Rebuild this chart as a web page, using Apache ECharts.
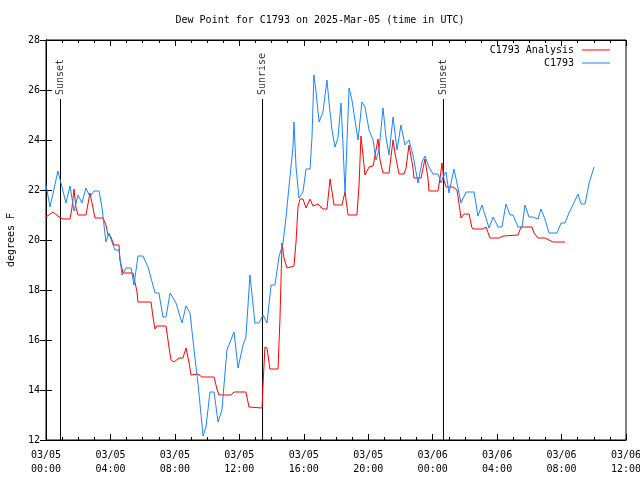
<!DOCTYPE html>
<html>
<head>
<meta charset="utf-8">
<script src="https://cdn.jsdelivr.net/npm/echarts@6/dist/echarts.min.js"></script>
<style>html,body{margin:0;padding:0;background:#fff}#c{width:640px;height:480px}</style>
</head>
<body>
<div id="c"></div>
<script>
// hours since 2025-03-05 00:00 UTC
const stationHours = [0,0.25,0.74,1.24,1.49,1.74,1.99,2.23,2.48,2.73,2.98,3.29,3.48,3.72,3.91,4.16,4.28,4.53,4.72,4.97,5.28,5.46,5.71,6.02,6.33,6.77,7.01,7.26,7.45,7.70,8.07,8.44,8.69,8.94,9.19,9.43,9.75,9.93,10.18,10.43,10.68,10.92,11.23,11.67,11.92,12.23,12.41,12.66,12.97,13.22,13.47,13.72,13.97,14.21,14.46,14.71,14.90,15.08,15.33,15.39,15.52,15.70,15.95,16.14,16.39,16.51,16.63,16.76,16.95,17.19,17.44,17.57,17.75,17.94,18.12,18.31,18.43,18.56,18.81,18.99,19.24,19.37,19.61,19.80,20.05,20.30,20.48,20.67,20.92,21.10,21.29,21.54,21.79,22.03,22.28,22.53,22.78,23.09,23.34,23.52,23.77,24.02,24.33,24.52,24.64,24.83,25.01,25.32,25.51,25.76,26.07,26.57,26.81,27.06,27.50,27.75,28.06,28.30,28.55,28.80,28.99,29.30,29.55,29.73,29.98,30.23,30.54,30.72,30.97,31.22,31.72,31.97,32.21,32.46,32.71,33.02,33.21,33.46,33.71,34.02];
const stationValues = [22.2,21.32,22.76,21.48,22.16,21.16,21.8,21.48,22.08,21.72,21.96,21.96,21.28,19.92,20.28,19.8,19.6,19.6,18.6,18.88,18.88,18.2,19.36,19.36,18.92,17.88,17.88,16.92,16.92,17.88,17.48,16.68,17.36,17.08,15.6,14.28,12.16,12.52,13.92,13.92,12.72,13.2,15.6,16.32,14.88,15.8,16.12,18.6,16.68,16.68,17.0,16.68,18.2,18.2,19.32,19.88,20.92,22.12,23.72,24.72,22.92,21.68,21.92,22.84,22.84,24.12,26.6,25.92,24.72,25.12,26.4,25.48,24.4,23.72,24.08,25.48,23.88,21.88,26.08,25.6,24.52,24.0,25.52,25.32,24.4,24.0,23.2,23.6,25.28,24.12,23.4,24.92,23.6,24.6,23.8,24.0,23.4,22.28,23.12,23.36,22.92,22.64,22.64,22.28,22.52,22.72,21.88,22.84,22.28,21.48,21.92,21.92,20.96,21.4,20.48,20.92,20.52,20.52,21.44,21.0,21.0,20.52,20.52,21.4,20.92,20.92,20.84,21.24,20.84,20.28,20.28,20.68,20.68,21.08,21.4,21.84,21.44,21.44,22.28,22.92];

const analysisHours = [0,0.43,0.81,1.06,1.49,1.61,1.74,1.86,1.99,2.48,2.73,2.92,3.04,3.54,3.72,3.85,4.03,4.22,4.53,4.59,4.78,5.40,5.65,5.71,6.52,6.64,6.77,6.89,7.45,7.63,7.76,7.94,8.26,8.50,8.69,8.88,9.00,9.43,9.68,10.43,10.61,10.74,11.48,11.67,12.41,12.60,12.72,13.41,13.47,13.59,13.72,13.90,14.40,14.52,14.65,14.77,14.96,15.39,15.52,15.64,15.77,15.95,16.14,16.39,16.57,16.88,17.19,17.44,17.63,17.88,18.37,18.56,18.75,19.30,19.43,19.55,19.80,20.05,20.30,20.61,20.73,20.92,21.29,21.54,21.66,21.91,22.22,22.35,22.53,22.78,22.84,23.28,23.52,23.71,23.77,24.33,24.46,24.58,24.70,24.83,25.26,25.51,25.63,25.76,25.95,26.26,26.44,26.57,27.12,27.31,27.56,28.12,28.37,29.30,29.48,30.17,30.29,30.54,30.97,31.22,31.47,32.21];
const analysisValues = [20.92,21.12,20.92,20.84,20.84,21.28,22.04,21.28,21.0,21.0,21.88,21.28,20.88,20.88,20.6,20.2,20.12,19.8,19.8,19.2,18.68,18.68,17.92,17.52,17.52,16.92,16.44,16.56,16.56,15.72,15.2,15.12,15.28,15.28,15.68,15.08,14.6,14.64,14.52,14.52,14.04,13.8,13.8,13.92,13.92,13.32,13.28,13.28,14.2,15.72,15.68,14.84,14.84,16.8,19.88,19.28,18.88,18.96,19.92,21.32,21.64,21.64,21.28,21.64,21.36,21.44,21.24,21.24,22.44,21.4,21.4,21.92,21.0,21.0,22.2,24.16,22.6,22.92,22.96,24.04,23.2,22.68,22.68,24.0,23.48,22.64,22.64,22.88,23.8,22.88,22.48,22.48,23.24,22.48,21.96,21.96,22.48,23.08,22.4,22.12,22.12,22.0,21.48,20.88,21.04,21.04,20.48,20.44,20.44,20.52,20.08,20.08,20.16,20.2,20.52,20.52,20.28,20.08,20.08,20.0,19.92,19.92];

const sunEventNames = ['Sunset','Sunrise','Sunset'];
const sunEventHours = [0.90,13.44,24.67];
const sunLineTop = 25.64;

const yTicks = {min:12, max:28, interval:2};
const xTicks = {min:0, max:36, interval:4};
const dayLabels = ['03/05','03/06'];

const FONT = 'DejaVu Sans Mono';
const zip = (a,b) => a.map((v,i)=>[v,b[i]]);

const sunSeries = [];
sunEventHours.forEach((h,i)=>{
  sunSeries.push({
    type:'line', name:'sun'+i, data:[[h,yTicks.min],[h,sunLineTop]],
    symbol:'none', silent:true, animation:false,
    lineStyle:{color:'#000',width:1}, z:1
  });
  sunSeries.push({
    type:'scatter', name:'sunlabel'+i, data:[[h,sunLineTop]], symbolSize:0, silent:true, animation:false,
    label:{show:true, formatter:sunEventNames[i], rotate:90, position:'top', distance:4,
      align:'left', verticalAlign:'middle', fontFamily:FONT, fontSize:10, color:'#000'}
  });
});

const xLabelFmt = v => {
  const d = Math.floor(v/24), hh = v%24;
  return dayLabels[d] + '\n' + String(hh).padStart(2,'0') + ':00';
};

const chart = echarts.init(document.getElementById('c'), null, {renderer:'canvas'});
chart.setOption({
  animation:false,
  backgroundColor:'#fff',
  title:{text:'Dew Point for C1793 on 2025-Mar-05 (time in UTC)', left:'center', top:10,
    textStyle:{fontFamily:FONT, fontSize:10, fontWeight:'normal', color:'#000'}},
  grid:{left:46, right:14, top:40, bottom:40, show:true, borderColor:'#000', borderWidth:1,
    containLabel:false, outerBoundsMode:'none'},
  legend:{data:['C1793 Analysis','C1793'], orient:'vertical', right:30, top:44, align:'right',
    padding:0, icon:'rect', itemWidth:28, itemHeight:1, itemGap:1,
    textStyle:{fontFamily:FONT, fontSize:10, color:'#000', lineHeight:12, padding:[0,3,0,0]}},
  xAxis:[{
    type:'value', min:xTicks.min, max:xTicks.max, interval:xTicks.interval,
    axisLine:{show:true, lineStyle:{color:'#000', width:1}},
    axisTick:{show:true, inside:true, length:6, lineStyle:{color:'#000'}},
    minorTick:{show:true, splitNumber:4, length:3, lineStyle:{color:'#000'}},
    splitLine:{show:false},
    axisLabel:{formatter:xLabelFmt, fontFamily:FONT, fontSize:10, color:'#000', margin:8, lineHeight:14}
  },{
    type:'value', position:'top', min:xTicks.min, max:xTicks.max, interval:xTicks.interval,
    axisLine:{show:true, lineStyle:{color:'#000'}},
    axisTick:{show:true, inside:true, length:6, lineStyle:{color:'#000'}},
    minorTick:{show:true, splitNumber:4, length:3, lineStyle:{color:'#000'}},
    splitLine:{show:false}, axisLabel:{show:false}
  }],
  yAxis:[{
    type:'value', min:yTicks.min, max:yTicks.max, interval:yTicks.interval,
    name:'degrees F', nameLocation:'middle', nameGap:30,
    nameTextStyle:{fontFamily:FONT, fontSize:10, color:'#000'},
    axisLine:{show:true, lineStyle:{color:'#000'}},
    axisTick:{show:true, inside:true, length:6, lineStyle:{color:'#000'}},
    splitLine:{show:false},
    axisLabel:{fontFamily:FONT, fontSize:10, color:'#000', margin:6}
  },{
    type:'value', position:'right', min:yTicks.min, max:yTicks.max, interval:yTicks.interval,
    axisLine:{show:true, lineStyle:{color:'#000'}},
    axisTick:{show:true, inside:true, length:6, lineStyle:{color:'#000'}},
    splitLine:{show:false}, axisLabel:{show:false}
  }],
  series:[
    ...sunSeries,
    {type:'line', name:'C1793 Analysis', data:zip(analysisHours, analysisValues), symbol:'none',
      lineStyle:{color:'#ff0000', width:1}, itemStyle:{color:'#ff0000'}, z:3},
    {type:'line', name:'C1793', data:zip(stationHours, stationValues), symbol:'none',
      lineStyle:{color:'#1a85ff', width:1}, itemStyle:{color:'#1a85ff'}, z:4}
  ]
});
</script>
</body>
</html>
